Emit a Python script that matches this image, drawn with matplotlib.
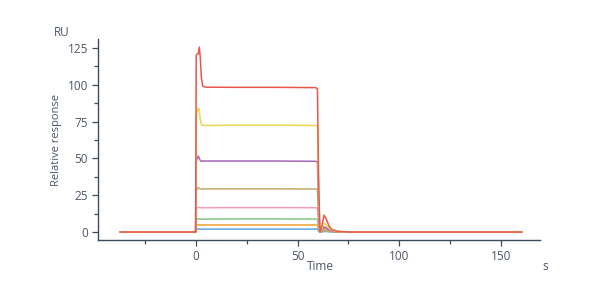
import matplotlib
matplotlib.use("Agg")
import matplotlib.pyplot as plt
from matplotlib.ticker import MultipleLocator

plt.rcParams["font.family"] = ["Open Sans", "DejaVu Sans"]

# time points (s) shared by all curves
time = [-37, -0.3, 0, 0.3, 0.8, 1.3, 1.8, 2.3, 2.8, 3.5, 5, 20, 40, 59, 59.8,
        60.3, 61, 62, 63, 64, 65.5, 67, 70, 75, 160]

# responses (RU)
blue = [0, 0, 0, 1.8, 2.0, 2.1, 2.0, 2.0, 2.0, 2.0, 2.0, 2.0, 2.0, 2.0, 2.0,
        0.8, 0, 0.1, 0.4, 0.35, 0.2, 0.1, 0, 0, 0]
orange = [0, 0, 0, 4.4, 4.8, 5.0, 4.9, 4.8, 4.8, 4.8, 4.8, 4.8, 4.8, 4.8, 4.7,
          2.0, 0, 0.3, 0.9, 0.8, 0.4, 0.2, 0, 0, 0]
green = [0, 0, 0, 8.2, 8.8, 9.0, 8.9, 8.8, 8.8, 8.8, 8.8, 8.9, 8.9, 8.8, 8.6,
         3.5, 0, 0.4, 1.3, 1.1, 0.6, 0.2, 0.1, 0, 0]
pink = [0, 0, 0, 15.5, 16.4, 16.8, 16.6, 16.5, 16.4, 16.5, 16.5, 16.6, 16.6, 16.5,
        16.2, 6.5, 0, 0.6, 1.8, 1.5, 0.8, 0.3, 0.1, 0, 0]
olive = [0, 0, 0, 28, 29.5, 30.2, 29.6, 29.2, 29.2, 29.2, 29.3, 29.3, 29.3, 29.2,
         29.0, 12, 0, 0.8, 2.5, 2.0, 1.0, 0.4, 0.1, 0, 0]
purple = [0, 0, 0, 48, 50, 51.6, 50, 48.5, 48, 48.2, 48.2, 48.2, 48.2, 48.0,
          47.5, 20, 0, 1.0, 3.5, 3.0, 1.5, 0.6, 0.2, 0, 0]
yellow = [0, 0, 0, 78, 82, 84, 83, 76, 73, 72.5, 72.3, 72.5, 72.5, 72.3, 71.5,
          30, 0, 2.0, 6.0, 5.0, 2.5, 1.0, 0.3, 0, 0]
red = [0, 0, 0, 120, 121, 121, 125.5, 118, 105, 99, 98.3, 98.2, 98.2, 98.0, 97,
       40, 0, 4.0, 11.5, 9.0, 4.0, 1.5, 0.5, 0, 0]

curves = [blue, orange, green, pink, olive, purple, yellow, red]
colors = ["#5aa8e0", "#f0a030", "#82c785", "#f59ac0", "#c4a96a", "#a468b8",
          "#e6d84e", "#e8584a"]

fig = plt.figure(figsize=(6, 3), dpi=100)
ax = fig.add_axes([0.163, 0.2, 0.737, 0.67])

for y, c in zip(curves, colors):
    ax.plot(time, y, color=c, lw=1.1)

ax.set_xlim(-48, 169)
ax.set_ylim(-5.4, 131)

ax.xaxis.set_major_locator(MultipleLocator(50))
ax.xaxis.set_minor_locator(MultipleLocator(25))
ax.yaxis.set_major_locator(MultipleLocator(25))
ax.yaxis.set_minor_locator(MultipleLocator(12.5))

spine_col = "#3d4a5c"
lab_col = "#4a5568"
for s in ["top", "right"]:
    ax.spines[s].set_visible(False)
for s in ["left", "bottom"]:
    ax.spines[s].set_color(spine_col)
    ax.spines[s].set_linewidth(1.0)

ax.tick_params(which="major", length=4, width=0.9, color=spine_col,
               labelcolor=lab_col, labelsize=8.5, pad=3)
ax.tick_params(which="minor", length=3, width=0.9, color=spine_col)

fig.text(57 / 600, 1 - 140 / 300, "Relative response", rotation=90,
         ha="center", va="center", fontsize=8, color=lab_col)
fig.text(62 / 600, 1 - 33 / 300, "RU", ha="center", va="center",
         fontsize=8.5, color=lab_col)
fig.text(320 / 600, 1 - 267 / 300, "Time", ha="center", va="center",
         fontsize=8.5, color=lab_col)
fig.text(545 / 600, 1 - 267 / 300, "s", ha="center", va="center",
         fontsize=8.5, color=lab_col)

fig.savefig("out.png", dpi=100)
